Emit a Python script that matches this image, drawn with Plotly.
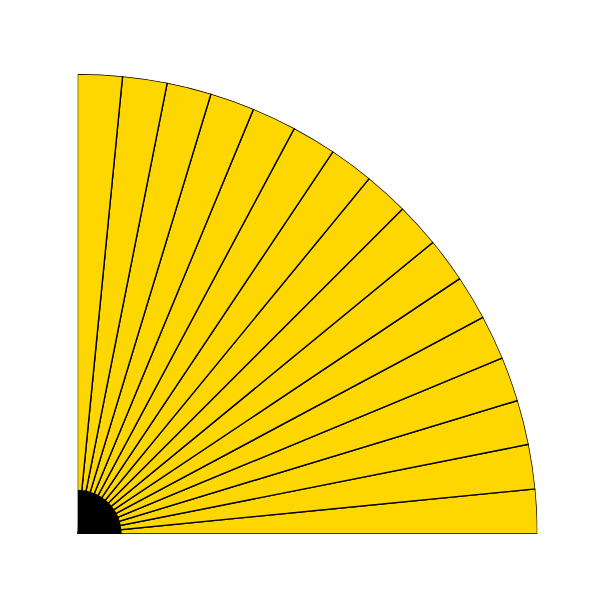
import plotly.graph_objects as go

n_wedges = 16
wedge_width = 90 / n_wedges
theta_centers = [wedge_width * (i + 0.5) for i in range(n_wedges)]
radii = [1.0] * n_wedges
hub_radius = [0.096]
hub_theta = [45]
hub_width = [90]

fig = go.Figure()
fig.add_trace(go.Barpolar(
    r=radii, theta=theta_centers, width=[wedge_width] * n_wedges,
    marker=dict(color="#FFD700", line=dict(color="black", width=1.4)),
    showlegend=False, hoverinfo="skip",
))
fig.add_trace(go.Barpolar(
    r=hub_radius, theta=hub_theta, width=hub_width,
    marker=dict(color="black", line=dict(color="black", width=0)),
    showlegend=False, hoverinfo="skip",
))
fig.update_layout(
    width=600, height=600,
    margin=dict(l=69, r=70, t=66, b=74),
    paper_bgcolor="white", plot_bgcolor="white",
    polar=dict(
        sector=[0, 90],
        bgcolor="white",
        domain=dict(x=[0, 1], y=[0, 1]),
        radialaxis=dict(range=[0, 1], visible=False, showgrid=False, showline=False),
        angularaxis=dict(visible=False, showgrid=False, showline=False),
        bargap=0,
    ),
)
fig.write_html("out.html")
